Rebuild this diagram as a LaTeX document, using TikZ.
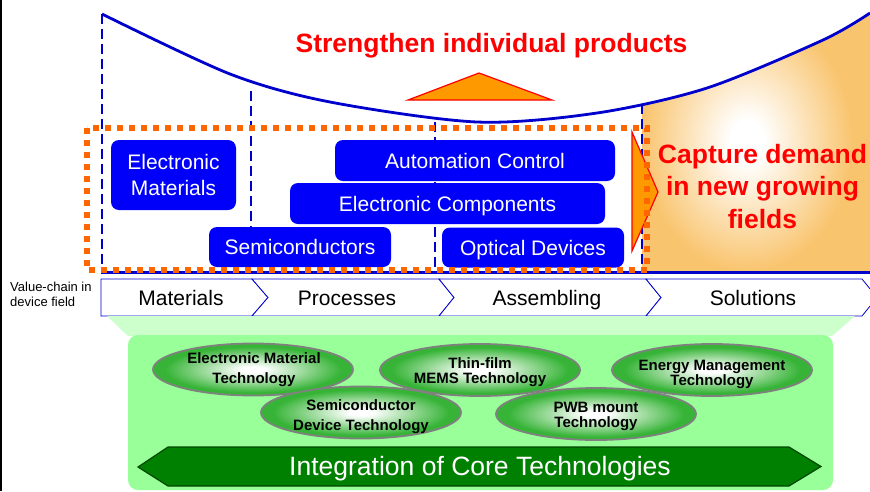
\documentclass[tikz,border=0pt]{standalone}
\usepackage{fontspec}
\setmainfont{Liberation Sans}
\usetikzlibrary{shapes.geometric}
\definecolor{lineblue}{RGB}{0,0,204}
\definecolor{boxblue}{RGB}{0,0,250}
\definecolor{dotorange}{RGB}{255,102,0}
\definecolor{capor}{RGB}{249,196,110}
\definecolor{triorange}{RGB}{255,153,0}
\definecolor{lightgreen}{RGB}{153,255,153}
\definecolor{palegreen}{RGB}{204,255,204}
\definecolor{elgreen}{RGB}{55,180,55}
\definecolor{darkgreen}{RGB}{0,128,0}
\definecolor{darkgreenb}{RGB}{0,70,0}
\pgfdeclareradialshading{capglow}{\pgfpoint{0bp}{0bp}}{color(0bp)=(white); color(4bp)=(white); color(25bp)=(capor); color(50bp)=(capor)}
\pgfdeclareradialshading{ellglow}{\pgfpoint{0bp}{0bp}}{color(0bp)=(white); color(3bp)=(white); color(22bp)=(elgreen); color(25bp)=(elgreen); color(50bp)=(elgreen)}
\begin{document}
\begin{tikzpicture}[x=1pt,y=-1pt,
  bluebox/.style={fill=boxblue, rounded corners=8pt, text=white, font=\fontsize{21}{26}\selectfont, inner sep=0pt, align=center},
  bluebox1/.style={bluebox, text height=15pt, text depth=0pt},
  vctext/.style={font=\fontsize{21}{24}\selectfont, inner sep=0pt, anchor=base},
  techell/.style={ellipse, shading=ellglow, draw=gray, line width=1.8pt, minimum width=200pt, minimum height=52pt, inner sep=0pt},
  elltext/.style={align=center, inner sep=0pt, font=\bfseries\fontsize{15}{15}\selectfont},
  bluedash/.style={lineblue, line width=2.8pt, dash pattern=on 10pt off 5pt},
  chev/.style={draw=lineblue, line width=0.8pt, fill=white},
  redtitle/.style={text=red, font=\bfseries\fontsize{26.5}{32.5}\selectfont, inner sep=0pt, align=center}]
\useasboundingbox (0,0) rectangle (870,491);
\fill[black] (0,0) rectangle (2,491);

% orange region under the rising curve
\begin{scope}
  \clip plot[smooth] coordinates {(102,14) (230,74) (330,102) (477,122) (597,113) (707,88) (823,40) (870,13)} -- (870,272) -- (102,272) -- cycle;
  \fill[capor] (642,0) rectangle (870,272);
  \shade[shading=capglow] (642,10) rectangle (852,272);
\end{scope}

% dashed verticals
\draw[bluedash] (102,14) -- (102,271);
\draw[bluedash] (251,91) -- (251,271);
\draw[bluedash] (435,122) -- (435,271);
\draw[bluedash] (642,104) -- (642,271);

% curve
\draw[lineblue, line width=2.8pt] plot[smooth] coordinates {(102,14) (230,74) (330,102) (477,122) (597,113) (707,88) (823,40) (870,13)};
\draw[lineblue, line width=3pt] (101,272.5) -- (870,272.5);

% triangles
\filldraw[fill=triorange, draw=red, line width=1.2pt] (408,100) -- (479,73) -- (552,100) -- cycle;
\filldraw[fill=triorange, draw=red, line width=1.2pt] (632,132) -- (658,192) -- (632,251) -- cycle;

% blue boxes
\node[bluebox, minimum width=125pt, minimum height=70pt] (em) at (173.5,175) {Electronic\\Materials};
\node[bluebox1, minimum width=280pt, minimum height=41pt] (ac) at (475,160.5) {Automation Control};
\node[bluebox1, minimum width=315pt, minimum height=41pt] (ec) at (447.5,203.5) {Electronic Components};
\node[bluebox1, minimum width=182pt, minimum height=40pt] (sc) at (300,247) {Semiconductors};
\node[bluebox1, minimum width=182pt, minimum height=40pt] (od) at (533,247.5) {Optical Devices};

% orange dotted frame
\draw[dotorange, line width=5.5pt, dash pattern=on 6pt off 6pt] (87,128) rectangle (647,270);

% titles
\node[redtitle, anchor=base] (str) at (491.5,52) {Strengthen individual products};
\node[redtitle, anchor=north] (cap) at (762.5,144) {Capture demand\\in new growing\\fields};

% value chain
\node[anchor=north west, align=left, inner sep=0pt, font=\fontsize{13}{15}\selectfont] (vcl) at (10,282) {Value-chain in\\device field};
\draw[chev] (101,279) -- (252,279) -- (268,297.5) -- (252,316) -- (101,316) -- cycle;
\draw[chev] (252,279) -- (439,279) -- (454,297.5) -- (439,316) -- (252,316) -- (268,297.5) -- cycle;
\draw[chev] (439,279) -- (646,279) -- (661,297.5) -- (646,316) -- (439,316) -- (454,297.5) -- cycle;
\draw[chev] (646,279) -- (862,279) -- (877,297.5) -- (862,316) -- (646,316) -- (661,297.5) -- cycle;
\node[vctext] (mat) at (181,305) {Materials};
\node[vctext] (pro) at (347,305) {Processes};
\node[vctext] (ass) at (547,305) {Assembling};
\node[vctext] (sol) at (753,305) {Solutions};

% green area
\fill[palegreen] (107,316) -- (855,316) -- (832,336) -- (128,336) -- cycle;
\fill[lightgreen, rounded corners=10pt] (128,335) rectangle (833,490);

% ellipses
\node[techell] (emt) at (253,369.5) {};
\node[techell] (tfm) at (480,370) {};
\node[techell] (emg) at (712,370) {};
\node[techell] (sdt) at (361,412.5) {};
\node[techell] (pwb) at (596,414) {};
\node[elltext, font=\bfseries\fontsize{15}{20}\selectfont] (emtT) at (254,370) {Electronic Material\\Technology};
\node[elltext] (tfmT) at (480,372) {Thin-film\\MEMS Technology};
\node[elltext] (emgT) at (712,374) {Energy Management\\Technology};
\node[elltext, font=\bfseries\fontsize{15}{20}\selectfont] (sdtT) at (361,417) {Semiconductor\\Device Technology};
\node[elltext] (pwbT) at (596,416) {PWB mount\\Technology};

% big arrow
\filldraw[fill=darkgreen, draw=darkgreenb, line width=1.2pt] (138,467) -- (168,447) -- (789,447) -- (821,466.5) -- (789,486) -- (168,486) -- cycle;
\node[text=white, font=\fontsize{26.5}{30}\selectfont, inner sep=0pt, anchor=base] (ict) at (480,475) {Integration of Core Technologies};
\end{tikzpicture}
\end{document}
